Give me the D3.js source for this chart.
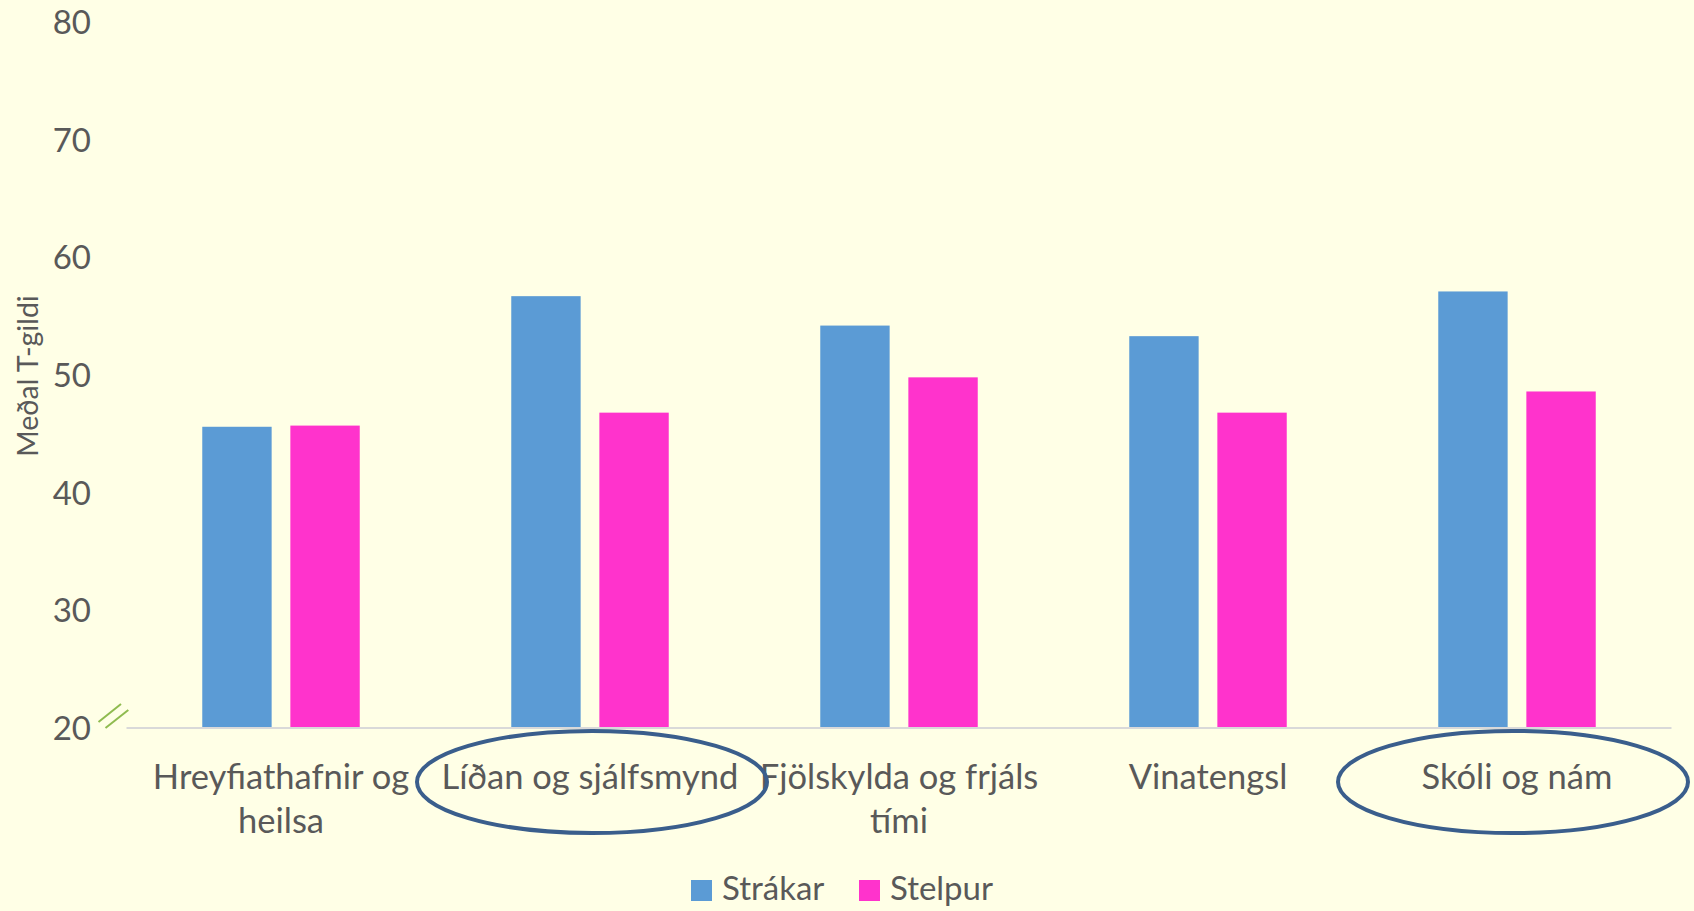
<!DOCTYPE html>
<html>
<head>
<meta charset="utf-8">
<script src="https://cdn.jsdelivr.net/npm/d3@7/dist/d3.min.js"></script>
<style>
  html, body { margin: 0; padding: 0; background: #ffffe6; }
  svg { display: block; }
  text { font-family: Lato, "Open Sans", sans-serif; fill: #595959; }
</style>
</head>
<body>
<svg id="chart" width="1694" height="911"></svg>
<script>
// ---- data ----
const categories = ["Hreyfiathafnir og heilsa", "Líðan og sjálfsmynd", "Fjölskylda og frjáls tími", "Vinatengsl", "Skóli og nám"];
const categoryLines = [["Hreyfiathafnir og", "heilsa"], ["Líðan og sjálfsmynd"], ["Fjölskylda og frjáls", "tími"], ["Vinatengsl"], ["Skóli og nám"]];
const series = ["Strákar", "Stelpur"];
const strakar = [45.6, 56.7, 54.2, 53.3, 57.1];
const stelpur = [45.7, 46.8, 49.8, 46.8, 48.6];
const yTicks = [20, 30, 40, 50, 60, 70, 80];
const highlighted = ["Líðan og sjálfsmynd", "Skóli og nám"];
const yTitle = "Meðal T-gildi";
const colors = { "Strákar": "#5b9bd5", "Stelpur": "#ff33cc" };

const values = { "Strákar": strakar, "Stelpur": stelpur };

const svg = d3.select("#chart");
const W = 1694, H = 911;
svg.append("rect").attr("width", W).attr("height", H).attr("fill", "#ffffe6");

const x0 = d3.scaleBand().domain(categories).range([126.5, 1671.5]).paddingInner(0).paddingOuter(0);
const x1 = d3.scaleBand().domain(series).range([0, x0.bandwidth()]).paddingInner(0.2125).paddingOuter(0.86);
const y = d3.scaleLinear().domain([20, 80]).range([728, 22]);

// bars
const g = svg.append("g");
categories.forEach((c, i) => {
  series.forEach(s => {
    const v = values[s][i];
    g.append("rect")
      .attr("x", x0(c) + x1(s))
      .attr("y", y(v))
      .attr("width", x1.bandwidth())
      .attr("height", y(20) - y(v))
      .attr("fill", colors[s]);
  });
});

// x axis line
svg.append("line")
  .attr("x1", x0.range()[0]).attr("x2", x0.range()[1])
  .attr("y1", y(20)).attr("y2", y(20))
  .attr("stroke", "#d9d9d9").attr("stroke-width", 2);

// y axis tick labels via d3 axis
const yAxis = d3.axisLeft(y).tickValues(yTicks).tickSize(0).tickPadding(0).tickFormat(d3.format("d"));
const ya = svg.append("g").attr("transform", "translate(91,0)").call(yAxis);
ya.select(".domain").remove();
ya.selectAll("text").attr("font-size", 33).attr("fill", "#595959").attr("dy", "0.35em")
  .style("font-family", "Lato, 'Open Sans', sans-serif");

// axis break marks
const bx = x0.range()[0], by = y(20);
[[-28, -6, -5.5, -24], [-21, 0, 1.8, -18]].forEach(d => {
  svg.append("line")
    .attr("x1", bx + d[0]).attr("y1", by + d[1])
    .attr("x2", bx + d[2]).attr("y2", by + d[3])
    .attr("stroke", "#8fbb4f").attr("stroke-width", 2);
});

// y title
svg.append("text")
  .attr("transform", "translate(38,376) rotate(-90)")
  .attr("text-anchor", "middle")
  .attr("font-size", 28.5)
  .text(yTitle);

// category labels
categories.forEach((c, i) => {
  const t = svg.append("text")
    .attr("text-anchor", "middle")
    .attr("font-size", 34.5);
  categoryLines[i].forEach((ln, j) => {
    t.append("tspan")
      .attr("x", x0(c) + x0.bandwidth() / 2)
      .attr("y", 789 + j * 44)
      .text(ln);
  });
});

// highlight ellipses
const ellipseShift = [2, -4];
highlighted.forEach((c, i) => {
  svg.append("ellipse")
    .attr("cx", x0(c) + x0.bandwidth() / 2 + ellipseShift[i])
    .attr("cy", 782)
    .attr("rx", 175)
    .attr("ry", 51)
    .attr("fill", "none")
    .attr("stroke", "#3a5e8c")
    .attr("stroke-width", 4);
});

// legend
const lg = svg.append("g");
const legendX = [691, 859];
series.forEach((s, i) => {
  lg.append("rect").attr("x", legendX[i]).attr("y", 880).attr("width", 21).attr("height", 21).attr("fill", colors[s]);
  lg.append("text").attr("x", legendX[i] + 31).attr("y", 900).attr("font-size", 33).text(s);
});
</script>
</body>
</html>
